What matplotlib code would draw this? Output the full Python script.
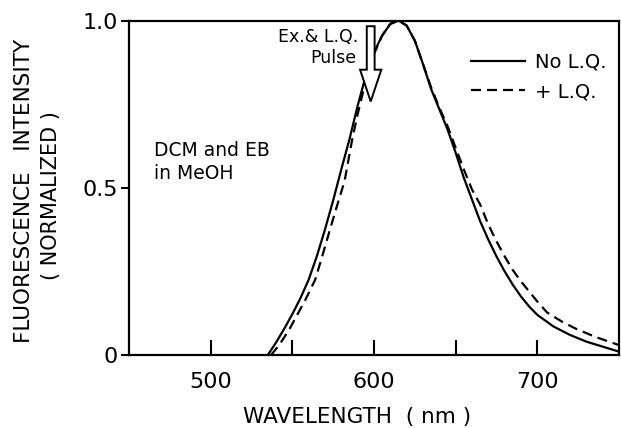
import matplotlib.pyplot as plt
from matplotlib.patches import FancyArrow

# emission spectra, normalized (wavelength in nm)
wl_no_lq = [535, 540, 545, 550, 555, 560, 565, 570, 575, 580, 585, 590, 595,
            600, 605, 610, 615, 620, 625, 630, 635, 640, 645, 650, 655, 660,
            665, 670, 675, 680, 685, 690, 695, 700, 710, 720, 730, 740, 750]
int_no_lq = [0.0, 0.037, 0.078, 0.122, 0.17, 0.225, 0.295, 0.375, 0.462, 0.555,
             0.645, 0.745, 0.835, 0.905, 0.955, 0.99, 1.0, 0.985, 0.94, 0.87,
             0.795, 0.735, 0.675, 0.605, 0.53, 0.465, 0.40, 0.345, 0.295,
             0.25, 0.21, 0.175, 0.145, 0.12, 0.085, 0.06, 0.04, 0.025, 0.01]

wl_lq = [537, 542, 548, 553, 558, 564, 568, 573, 577, 582, 586.5, 590, 595,
         600, 605, 610, 615, 620, 625, 630, 635, 640, 645, 650, 655, 660,
         665, 670, 675, 680, 685, 690, 695, 700, 706, 715, 723, 735, 748, 750]
int_lq = [0.0, 0.03, 0.075, 0.12, 0.165, 0.225, 0.29, 0.374, 0.44, 0.52,
          0.64, 0.72, 0.82, 0.90, 0.955, 0.99, 1.0, 0.985, 0.94, 0.87, 0.80,
          0.74, 0.685, 0.62, 0.555, 0.495, 0.45, 0.39, 0.34, 0.295, 0.254,
          0.22, 0.19, 0.16, 0.127, 0.10, 0.08, 0.055, 0.033, 0.03]

xticks = [500, 550, 600, 650, 700]
xticklabels = ["500", "", "600", "", "700"]
yticks = [0, 0.5, 1.0]
yticklabels = ["0", "0.5", "1.0"]

pulse_wl = 598

W, H = 621, 428


def px(x, y):
    # pixel position from top-left -> figure fraction
    return x / W, 1 - y / H


plt.rcParams["font.family"] = "DejaVu Sans"
fig = plt.figure(figsize=(6.21, 4.28), dpi=100)
ax = fig.add_axes([0.2077, 0.1706, 0.7890, 0.7814])

ax.plot(wl_no_lq, int_no_lq, color="black", lw=1.6, label="No L.Q.")
ax.plot(wl_lq, int_lq, color="black", lw=1.6, dashes=(4.5, 2.7), label="+ L.Q.")

# excitation / quench pulse arrow
ax.add_patch(FancyArrow(pulse_wl, 0.983, 0, -0.225, width=4.8,
                        head_width=13, head_length=0.095,
                        length_includes_head=True, facecolor="white",
                        edgecolor="black", lw=1.4, zorder=5))

ax.set_xlim(450, 750)
ax.set_ylim(0, 1.0)
ax.set_xticks(xticks)
ax.set_xticklabels(xticklabels, fontsize=16)
ax.set_yticks(yticks)
ax.set_yticklabels(yticklabels, fontsize=16)
ax.tick_params(axis="x", direction="in", length=11, width=1.5, pad=12)
ax.tick_params(axis="y", direction="out", length=6, width=1.5, pad=2)
for s in ax.spines.values():
    s.set_linewidth(1.6)

fig.text(*px(358, 37), "Ex.& L.Q.", fontsize=12.5, ha="right", va="center")
fig.text(*px(356, 58), "Pulse", fontsize=12.5, ha="right", va="center")
fig.text(*px(154, 150), "DCM and EB", fontsize=13.5, ha="left", va="center")
fig.text(*px(154, 173), "in MeOH", fontsize=13.5, ha="left", va="center")

ax.legend(loc="upper right", bbox_to_anchor=(0.975, 0.905), frameon=False,
          fontsize=14, handlelength=2.75, handletextpad=0.55, labelspacing=0.55,
          borderaxespad=0, borderpad=0)

fig.text(*px(357, 417), "WAVELENGTH  ( nm )", fontsize=15.5, ha="center",
         va="center")
fig.text(*px(24, 191), "FLUORESCENCE   INTENSITY", fontsize=15.5,
         rotation=90, ha="center", va="center")
fig.text(*px(51, 196), "( NORMALIZED )", fontsize=15, rotation=90,
         ha="center", va="center")

fig.savefig("out.png", dpi=100)
